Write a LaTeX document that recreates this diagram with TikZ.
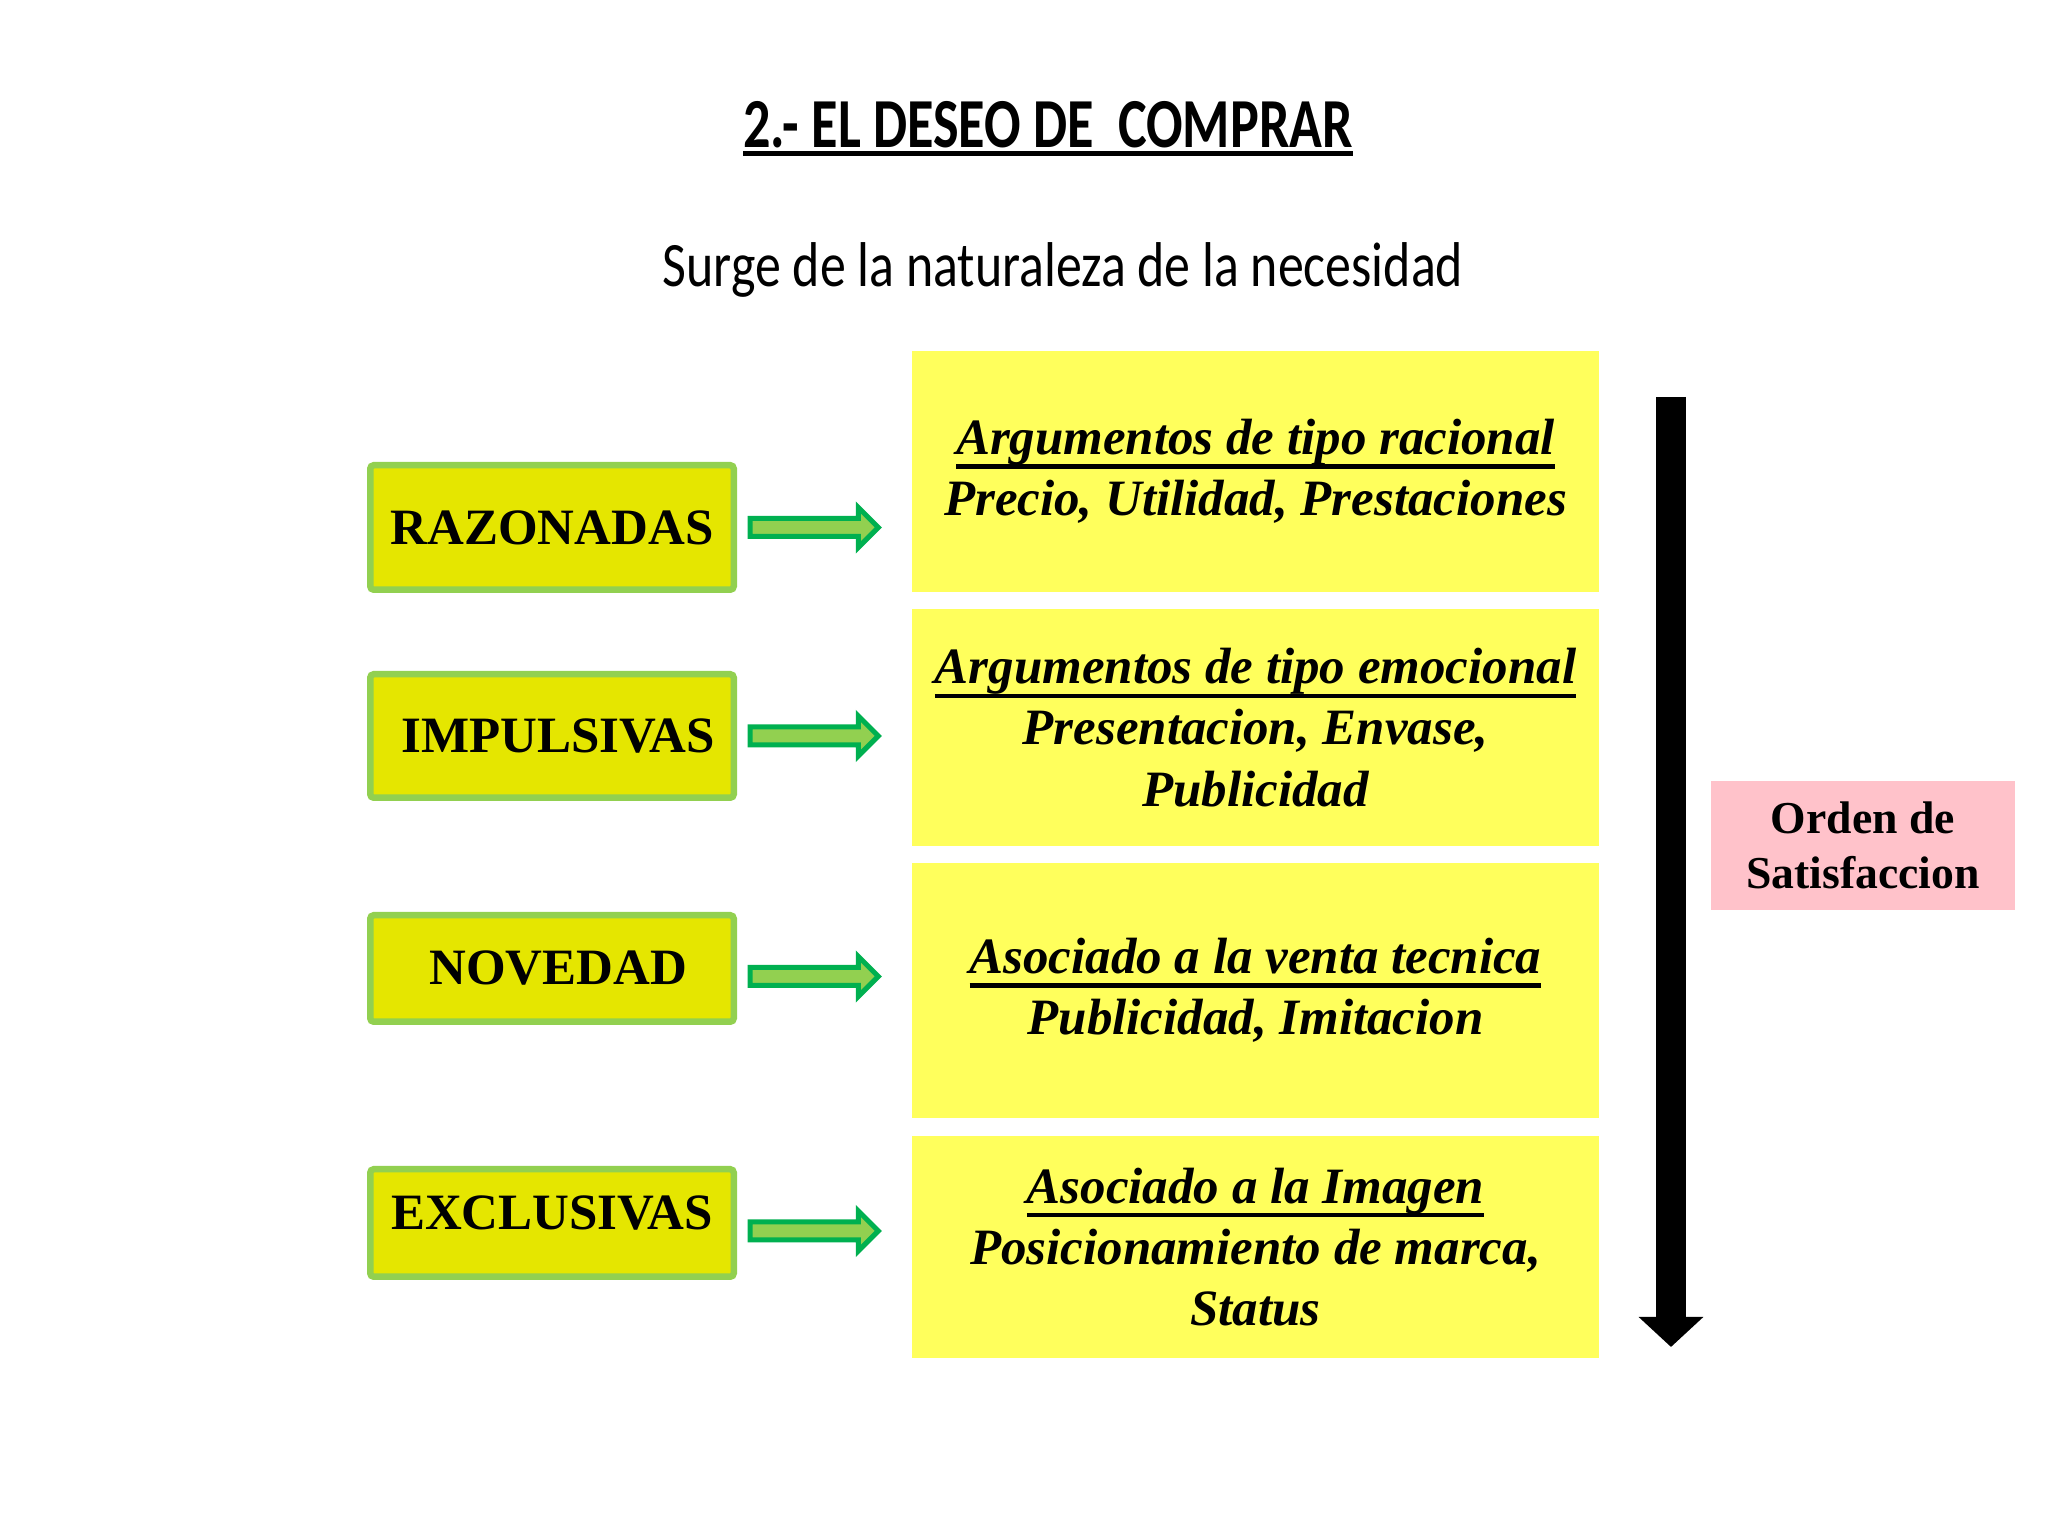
\documentclass[tikz,border=0pt]{standalone}
\usepackage{fontspec}
\setmainfont{Liberation Serif}
\newfontfamily\carlito{Carlito}
\usetikzlibrary{calc,arrows.meta}
\definecolor{boxlime}{RGB}{229,230,0}
\definecolor{limeedge}{RGB}{146,208,80}
\definecolor{darkgreen}{RGB}{0,176,80}
\definecolor{argyellow}{RGB}{255,255,92}
\definecolor{pinkbox}{RGB}{255,194,202}
\newcommand\ulbar[2][-4pt]{\leavevmode\setbox0\hbox{#2}\rlap{\rule[#1]{\wd0}{1.2pt}}\box0}

\tikzset{
  motivo/.style={draw=limeedge, line width=0.065cm, fill=boxlime, rounded corners=1pt,
    minimum width=3.635cm, font=\bfseries\fontsize{14.5}{17}\selectfont},
  argumento/.style={fill=argyellow, minimum width=6.87cm, align=center,
    font=\bfseries\itshape\fontsize{14.5}{17.4}\selectfont},
  flecha/.style={draw=darkgreen, fill=limeedge, line width=0.05cm, line join=miter}
}

\begin{document}
\begin{tikzpicture}
		%%%%% START %%%%%
		\useasboundingbox[fill=white] (0,0) rectangle (20.48,15.36);
		
		\node[anchor=base] (titulo) at (10.48,13.88) {\scalebox{0.77}[1]{\carlito\bfseries\fontsize{20}{24}\selectfont\ulbar[-2.2pt]{2.- EL DESEO DE\ \ COMPRAR}}};
		\node[anchor=base] (subtitulo) at (10.63,12.49) {\scalebox{0.82}[1]{\carlito\fontsize{18}{22}\selectfont Surge de la naturaleza de la necesidad}};
		
		% tipos de motivo
		\node[motivo, minimum height=1.245cm] (raz) at (5.52,10.085) {RAZONADAS};
		\node[motivo, minimum height=1.235cm] (imp) at (5.52,8.00) {\ IMPULSIVAS};
		\node[motivo, minimum height=1.065cm] (nov) at (5.52,5.675) {\ NOVEDAD};
		\node[motivo, minimum height=1.075cm] (exc) at (5.52,3.13) {\raisebox{0.2cm}{EXCLUSIVAS}};
		
		% argumentos
		\node[argumento, minimum height=2.41cm] (arg1) at (12.555,10.645) {\ulbar{Argumentos de tipo racional}\\Precio, Utilidad, Prestaciones};
		\node[argumento, minimum height=2.37cm] (arg2) at (12.555,8.085) {\ulbar{Argumentos de tipo emocional}\\Presentacion, Envase,\\Publicidad};
		\node[argumento, minimum height=2.55cm] (arg3) at (12.555,5.455) {\ulbar{Asociado a la venta tecnica}\\Publicidad, Imitacion};
		\node[argumento, minimum height=2.22cm] (arg4) at (12.555,2.89) {\ulbar{Asociado a la Imagen}\\Posicionamiento de marca,\\Status};
		
		\foreach \m/\a/\dy in {raz/arg1/0, imp/arg2/0, nov/arg3/-0.08, exc/arg4/-0.08}{
			\coordinate (s) at ($(\m.east)+(0.13,\dy)$);
			\coordinate (e) at ($(\m.east -| \a.west)+(-0.33,\dy)$);
			\draw[flecha] ($(s)+(0,0.09)$) -- ($(e)+(-0.2,0.09)$) -- ($(e)+(-0.2,0.2)$) -- (e)
				-- ($(e)+(-0.2,-0.2)$) -- ($(e)+(-0.2,-0.09)$) -- ($(s)+(0,-0.09)$) -- cycle;
		}
		
		% orden
		\coordinate (arriba) at (16.71,11.39);
		\coordinate (abajo) at (16.71,1.89);
		\draw[line width=0.3cm, -{Triangle[width=0.63cm,length=0.3cm]}] (arriba) -- (abajo);
		
		\node[fill=pinkbox, minimum width=3.04cm, minimum height=1.29cm, align=center,
			font=\bfseries\fontsize{13}{15.6}\selectfont] (orden) at (18.63,6.905) {Orden de\\Satisfaccion};
		
		%%%%% END %%%%%
\end{tikzpicture}
\end{document}
